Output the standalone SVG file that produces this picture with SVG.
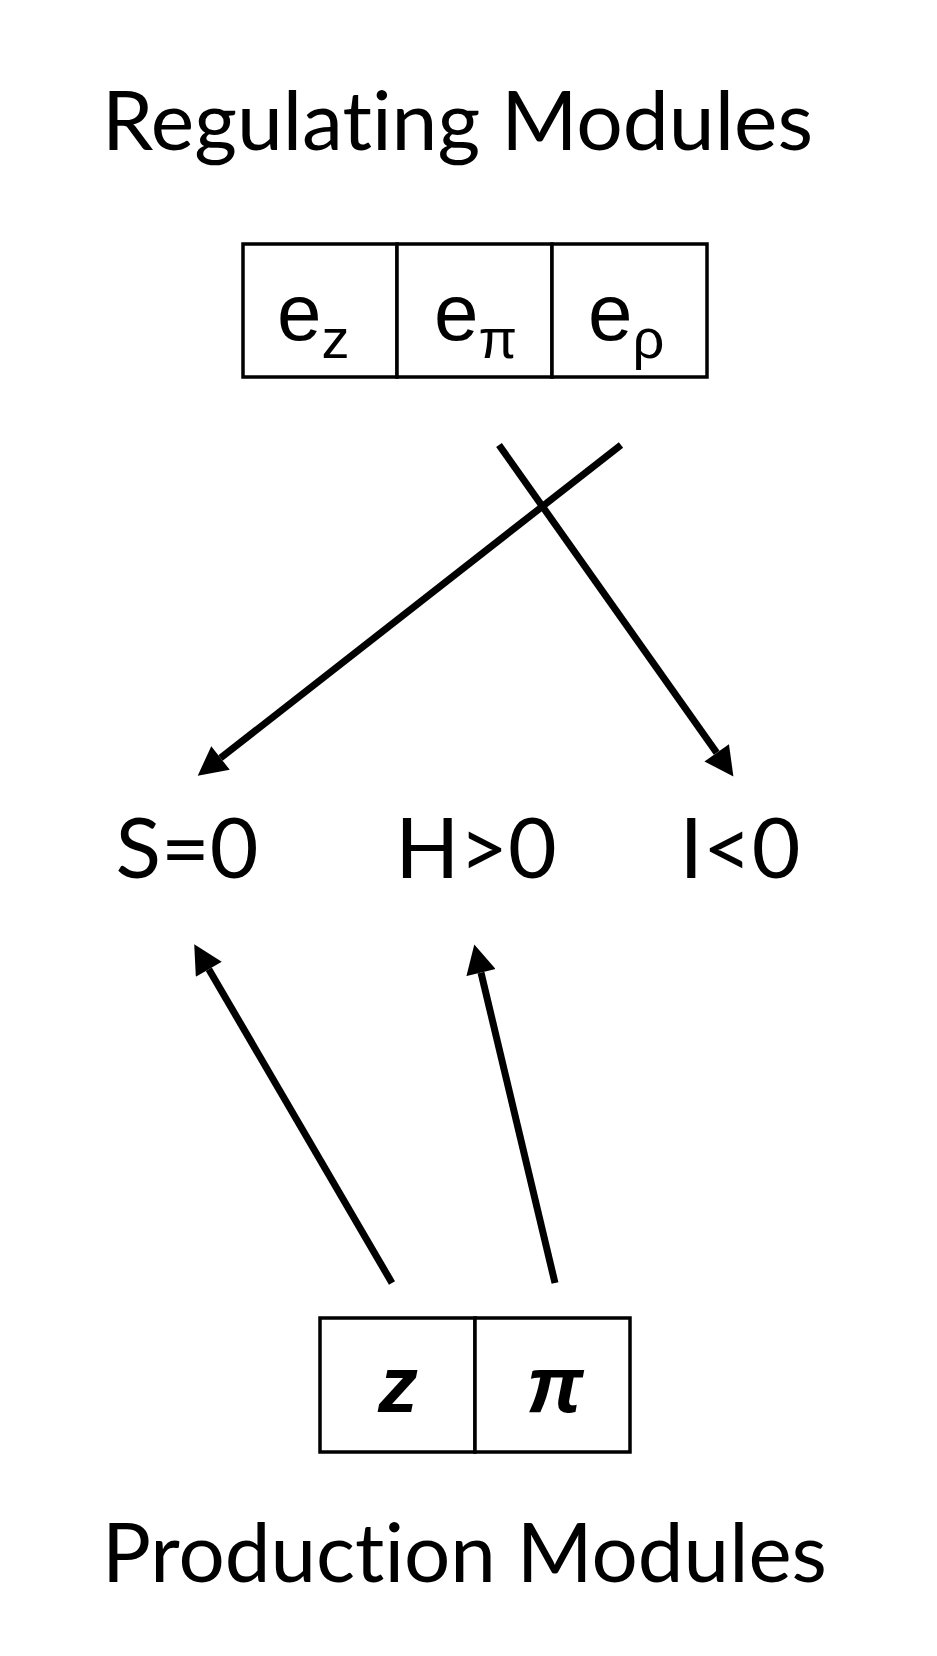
<svg xmlns="http://www.w3.org/2000/svg" width="937" height="1656" viewBox="0 0 937 1656">
<style>
.title{font-family:Lato,"Liberation Sans",sans-serif;font-size:81px;fill:#000;text-anchor:start;font-variant-ligatures:none}
.label{font-family:Lato,"Liberation Sans",sans-serif;font-size:84px;fill:#000;text-anchor:middle}
.cell{font-family:"Liberation Sans",Arial,sans-serif;font-size:80px;fill:#000}
.sub{font-size:56px}
.ital{font-family:"Liberation Sans",Arial,sans-serif;font-size:80px;font-style:italic;font-weight:bold;fill:#000;text-anchor:middle}
.box{fill:#fff;stroke:#000;stroke-width:3.5}
.conn{stroke:#000;stroke-width:7;fill:none;marker-end:url(#arr)}
</style>
<defs>
<marker id="arr" markerUnits="userSpaceOnUse" markerWidth="30" markerHeight="30" viewBox="0 0 27 28" refX="0" refY="14" orient="auto">
<path d="M0,0 L27,14 L0,28 z" fill="#000"/>
</marker>
</defs>
<rect width="937" height="1656" fill="#fff"/>
<g id="title-regulating"><text class="title" x="102" y="150" textLength="711" lengthAdjust="spacingAndGlyphs">Regulating Modules</text></g>
<g id="regulating-modules">
<rect class="box" x="243" y="244" width="154" height="133"/>
<rect class="box" x="397" y="244" width="155" height="133"/>
<rect class="box" x="552" y="244" width="155" height="133"/>
<text class="cell" x="277" y="340">e<tspan class="sub" dy="18">z</tspan></text>
<text class="cell" x="434" y="340">e<tspan class="sub" dy="18">π</tspan></text>
<text class="cell" x="588" y="340">e<tspan class="sub" dy="18">ρ</tspan></text>
</g>
<g id="node-S"><text class="label" x="187" y="878">S=0</text></g>
<g id="node-H"><text class="label" x="476" y="878">H&gt;0</text></g>
<g id="node-I"><text class="label" x="740" y="878">I&lt;0</text></g>
<g id="production-modules">
<rect class="box" x="320" y="1318" width="155" height="134"/>
<rect class="box" x="475" y="1318" width="155" height="134"/>
<text class="ital" x="398" y="1412">z</text>
<text class="ital" x="555" y="1412">π</text>
</g>
<g id="title-production"><text class="title" x="102" y="1582" textLength="725" lengthAdjust="spacingAndGlyphs">Production Modules</text></g>
<g id="connectors">
<line class="conn" x1="621" y1="445" x2="220.5" y2="758"/>
<line class="conn" x1="499" y1="445" x2="716.7" y2="752.8"/>
<line class="conn" x1="392" y1="1283" x2="208.8" y2="969.2"/>
<line class="conn" x1="555" y1="1283" x2="481" y2="972.6"/>
</g>
</svg>
